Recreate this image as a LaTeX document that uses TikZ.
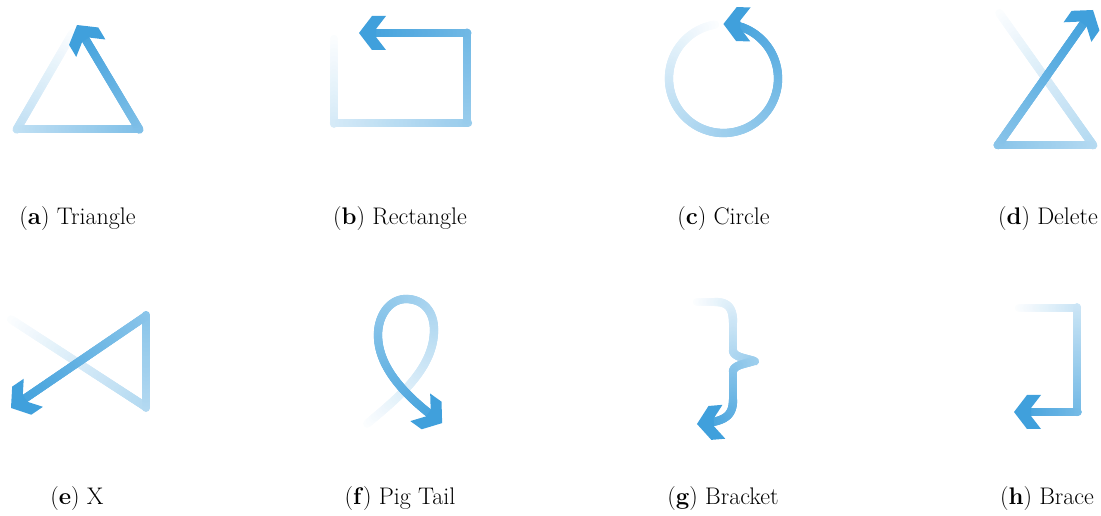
\documentclass[tikz,border=0pt]{standalone}
\usetikzlibrary{decorations.markings}
\definecolor{gblue}{RGB}{64,160,220}
\tikzset{
  % stroke that fades in from white to blue along its length, ending in a chevron head
  gesture/.style={decorate, decoration={markings,
     mark=between positions 0 and -10pt step 1pt with {
        \pgfmathtruncatemacro\gpct{2+98*(\pgfkeysvalueof{/pgf/decoration/mark info/distance from start}/\pgfdecoratedpathlength)}
        \draw[line width=6.2pt, line cap=round, draw=gblue!\gpct!white] (-0.8pt,0pt) -- (0.8pt,0pt);
     },
     mark=at position -0.6pt with {
        \fill[gblue] (0.6pt,0pt) -- (-9.15pt,12.75pt) -- (-19.65pt,12.75pt) -- (-12.15pt,3pt)
          -- (-12.15pt,-3pt) -- (-19.65pt,-12.75pt) -- (-9.15pt,-12.75pt) -- cycle;
     }}},
  caption/.style={font=\fontsize{18}{22}\selectfont, anchor=base, inner sep=0pt}
}
\begin{document}
\begin{tikzpicture}[x=0.75pt, y=-0.75pt]
\useasboundingbox (0,0) rectangle (1101,516);

% (a) triangle
\path[gesture] (72,34) -- (17,129) -- (139,129) -- (77,25);
% (b) rectangle
\path[gesture] (334,40) -- (334,123) -- (467,123) -- (467,33) -- (359,33);
% (c) circle
\path[gesture] (723.5,78.5) ++(-100:54.5) arc[start angle=-100, end angle=-450, radius=54.5];
% (d) delete
\path[gesture] (1000,14) -- (1093,145) -- (998,145) -- (1093,10);
% (e) X
\path[gesture] (12,320) -- (146,407) -- (146,316) -- (11,408);
% (f) pig tail
\path[gesture] (368,423) .. controls (395,400) and (434,370) .. (434,330)
  .. controls (434,310) and (422,299) .. (406,299)
  .. controls (390,299) and (378,315) .. (378,335)
  .. controls (378,370) and (410,400) .. (442,423);
% (g) bracket
\path[gesture] (698,302) -- (715,302) .. controls (728,302) and (733,308) .. (733,322)
  -- (733,350) .. controls (733,357) and (745,358) .. (754,361)
  .. controls (745,364) and (733,365) .. (733,372)
  -- (733,400) .. controls (733,418) and (722,422) .. (697,424);
% (h) brace
\path[gesture] (1020,308) -- (1077,308) -- (1077,412) -- (1014,412);

% captions
\node[caption] (cap-a) at (77.5,225) {(\textbf{a}) Triangle};
\node[caption] (cap-b) at (400,225) {(\textbf{b}) Rectangle};
\node[caption] (cap-c) at (723.5,225) {(\textbf{c}) Circle};
\node[caption] (cap-d) at (1048,225) {(\textbf{d}) Delete};
\node[caption] (cap-e) at (77,505) {(\textbf{e}) X};
\node[caption] (cap-f) at (400,505) {(\textbf{f}) Pig Tail};
\node[caption] (cap-g) at (723,505) {(\textbf{g}) Bracket};
\node[caption] (cap-h) at (1047,505) {(\textbf{h}) Brace};
\end{tikzpicture}
\end{document}
